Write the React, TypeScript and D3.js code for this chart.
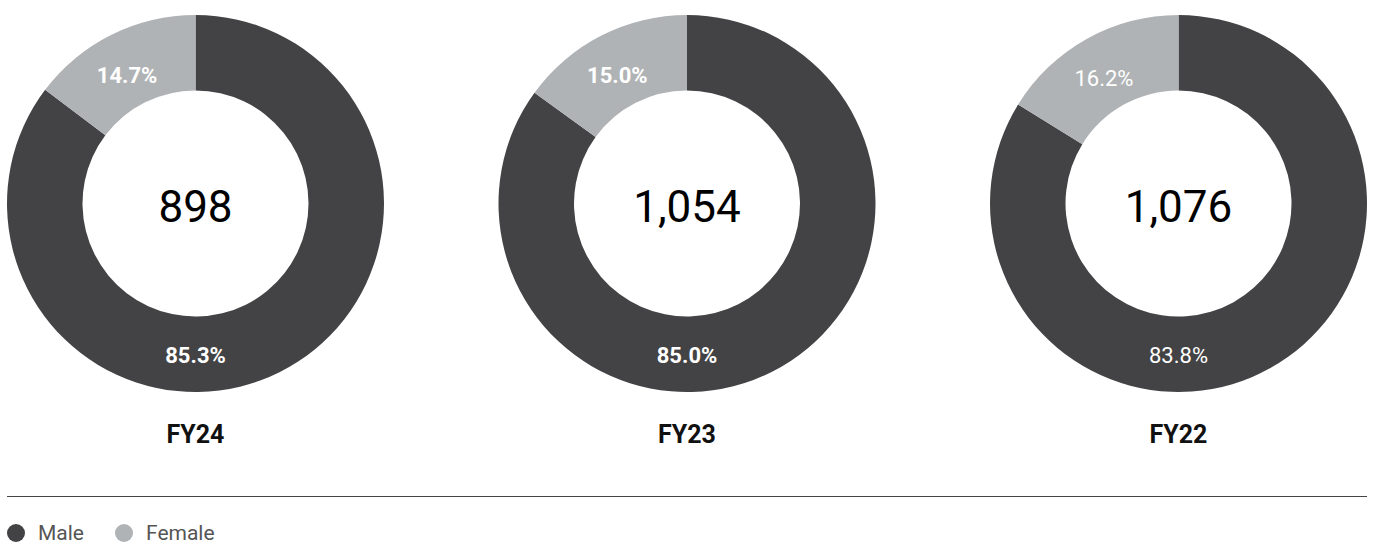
import React from "react";
import * as d3 from "d3";

const years = ["FY24", "FY23", "FY22"];
const totals = ["898", "1,054", "1,076"];
const maleShare = [85.3, 85.0, 83.8];
const femaleShare = [14.7, 15.0, 16.2];
const labelBold = [true, true, false];
const seriesNames = ["Male", "Female"];
const seriesColors = ["#434244", "#b0b3b5"];

const W = 1373;
const H = 545;
const FONT = "Roboto, 'Noto Sans', sans-serif";

export default function App() {
  const x = d3.scalePoint<string>().domain(years).range([195.5, 1178.5]);
  const cy = 203.5;
  const outerR = 188.5;
  const innerR = 113;
  const labelR = 149;
  const pie = d3
    .pie<number>()
    .sort(null)
    .value((d) => d);
  const arc = d3.arc<d3.PieArcDatum<number>>().innerRadius(innerR).outerRadius(outerR);
  const labelArc = d3.arc<d3.PieArcDatum<number>>().innerRadius(labelR).outerRadius(labelR);

  return (
    <svg
      width={W}
      height={H}
      style={{ position: "absolute", left: 0, top: 0, background: "#fff" }}
      fontFamily={FONT}
    >
      {years.map((y, i) => {
        const arcs = pie([maleShare[i], femaleShare[i]]);
        const cx = x(y)!;
        return (
          <g key={y} transform={`translate(${cx},${cy})`}>
            {arcs.map((a, j) => (
              <path key={j} d={arc(a)!} fill={seriesColors[j]} />
            ))}
            {arcs.map((a, j) => {
              // male label sits at the bottom of the ring, female at its segment centroid
              const la =
                j === 0
                  ? { ...a, startAngle: Math.PI, endAngle: Math.PI }
                  : a;
              const [lx, ly] = labelArc.centroid(la);
              const v = j === 0 ? maleShare[i] : femaleShare[i];
              return (
                <text
                  key={"l" + j}
                  x={lx - (j === 1 ? 2 : 0)}
                  y={ly + (j === 0 ? 3 : 5)}
                  textAnchor="middle"
                  dominantBaseline="central"
                  fill="#fff"
                  fontSize={22}
                  fontWeight={labelBold[i] ? 700 : 400}
                >
                  {v.toFixed(1) + "%"}
                </text>
              );
            })}
            <text
              x={0}
              y={3}
              textAnchor="middle"
              dominantBaseline="central"
              fill="#000"
              fontSize={44}
            >
              {totals[i]}
            </text>
            <text
              x={0}
              y={230.5}
              textAnchor="middle"
              dominantBaseline="central"
              fill="#111"
              fontSize={25}
              fontWeight={700}
            >
              {y}
            </text>
          </g>
        );
      })}
      <line x1={7} x2={1367} y1={496.5} y2={496.5} stroke="#444" strokeWidth={1.2} />
      {seriesNames.map((n, i) => {
        const lx = i === 0 ? 16 : 124;
        return (
          <g key={n}>
            <circle cx={lx} cy={533} r={9} fill={seriesColors[i]} />
            <text
              x={lx + 22}
              y={533}
              dominantBaseline="central"
              fontSize={21}
              fill="#555"
            >
              {n}
            </text>
          </g>
        );
      })}
    </svg>
  );
}
